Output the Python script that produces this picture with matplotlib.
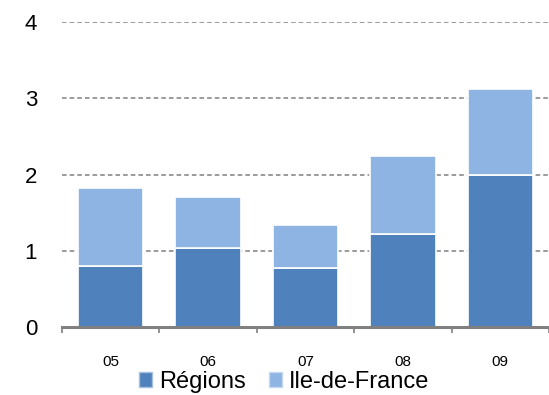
import numpy as np
import matplotlib.pyplot as plt
from matplotlib.patches import Patch
from matplotlib.ticker import FixedLocator

plt.rcParams['font.family'] = ['Liberation Sans', 'DejaVu Sans']

years = ["05", "06", "07", "08", "09"]
regions = [0.80, 1.04, 0.78, 1.22, 1.99]
idf = [1.03, 0.66, 0.56, 1.02, 1.13]

dark = "#4F81BD"
light = "#8EB4E3"
grey = "#808080"

fig = plt.figure(figsize=(5.49, 3.95), dpi=100)
ax = fig.add_axes([0.113, 0.172, 0.887, 0.772])

x = np.arange(len(years))
ax.bar(x, regions, width=0.67, color=dark, edgecolor="white", linewidth=1.2,
       zorder=3)
ax.bar(x, idf, width=0.67, bottom=regions, color=light, edgecolor="white",
       linewidth=1.2, zorder=3)

ax.set_xlim(-0.5, 4.5)
ax.set_ylim(0, 4)
ax.set_yticks([0, 1, 2, 3, 4])
ax.yaxis.grid(True, linestyle=(0, (3, 2)), color=grey, linewidth=1.1, zorder=0)
ax.set_axisbelow(True)

for s in ["left", "right", "top"]:
    ax.spines[s].set_visible(False)
ax.spines["bottom"].set_color(grey)
ax.spines["bottom"].set_linewidth(2.2)
ax.spines["bottom"].set_zorder(4)

ax.set_xticks(x)
ax.set_xticklabels(years, fontsize=11)
ax.tick_params(axis="x", which="major", length=0, pad=20)
ax.xaxis.set_minor_locator(FixedLocator(np.arange(-0.5, 5.0, 1.0)))
ax.tick_params(axis="x", which="minor", length=4, width=1.2, color=grey)
ax.tick_params(axis="y", length=0, pad=18, labelsize=16)

# legend squares with a thin lighter border
handles = [Patch(facecolor=dark, edgecolor="#A7C0DE", linewidth=1, label="Régions"),
           Patch(facecolor=light, edgecolor="#C6D9F1", linewidth=1, label="Ile-de-France")]
ax.legend(handles=handles, loc="center", bbox_to_anchor=(0.456, -0.18), ncol=2,
          frameon=False, fontsize=17, handlelength=0.55, handleheight=0.55,
          handletextpad=0.27, columnspacing=1.0, borderpad=0)

fig.savefig("out.png", dpi=100)
